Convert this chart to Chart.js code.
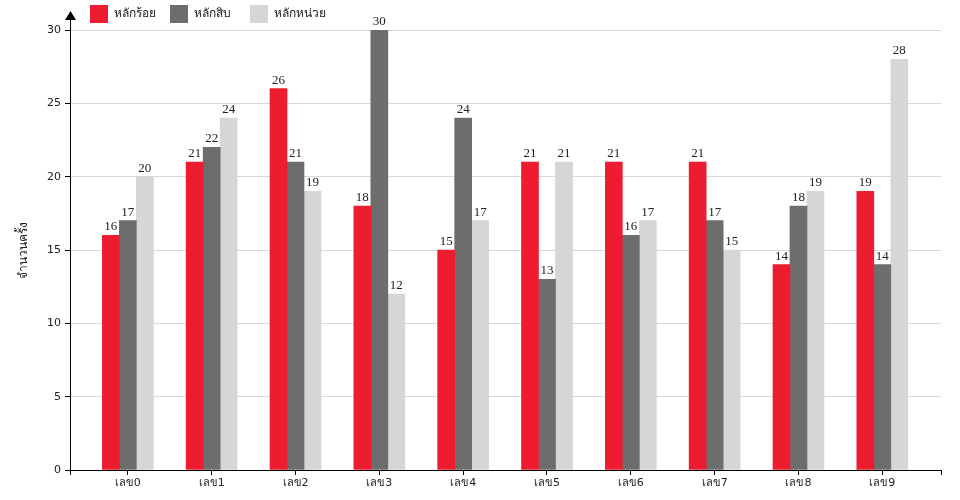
<!DOCTYPE html>
<html>
<head>
<meta charset="utf-8">
<script src="https://cdn.jsdelivr.net/npm/chart.js@4"></script>
<style>
  html, body { margin: 0; padding: 0; background: #fff; }
</style>
</head>
<body>
<canvas id="chart" width="960" height="500"></canvas>
<script>
// data
const categories = ['เลข0', 'เลข1', 'เลข2', 'เลข3', 'เลข4', 'เลข5', 'เลข6', 'เลข7', 'เลข8', 'เลข9'];
const seriesNames = ['หลักร้อย', 'หลักสิบ', 'หลักหน่วย'];
const hundreds = [16, 21, 26, 18, 15, 21, 21, 21, 14, 19];
const tens = [17, 22, 21, 30, 24, 13, 16, 17, 18, 14];
const units = [20, 24, 19, 12, 17, 21, 17, 15, 19, 28];
const yTicks = [0, 5, 10, 15, 20, 25, 30];
const yTitle = 'จำนวนครั้ง';

const colors = ['#ed1c2e', '#6d6d6d', '#d6d6d6'];
const sansFont = "'DejaVu Sans', 'Noto Sans', sans-serif";
const serifFont = "'Liberation Serif', 'DejaVu Serif', serif";

function points(vals) {
  return vals.map((v, i) => ({ x: i, y: v }));
}

// value labels above bars, legend, y title and axis arrow
const extras = {
  id: 'extras',
  afterDatasetsDraw(chart) {
    const ctx = chart.ctx;
    ctx.save();
    ctx.font = '13px ' + serifFont;
    ctx.fillStyle = '#222';
    ctx.textAlign = 'center';
    ctx.textBaseline = 'bottom';
    chart.data.datasets.forEach((ds, di) => {
      chart.getDatasetMeta(di).data.forEach((bar, i) => {
        ctx.fillText(String(ds.data[i].y), bar.x, bar.y - 2);
      });
    });
    ctx.restore();
  },
  afterDraw(chart) {
    const ctx = chart.ctx;
    const area = chart.chartArea;
    ctx.save();
    // arrow on y axis
    ctx.strokeStyle = '#000';
    ctx.lineWidth = 1;
    ctx.beginPath();
    ctx.moveTo(area.left + 0.5, area.top);
    ctx.lineTo(area.left + 0.5, 19);
    ctx.stroke();
    ctx.fillStyle = '#000';
    ctx.beginPath();
    ctx.moveTo(area.left + 0.5, 11);
    ctx.lineTo(area.left - 5, 20);
    ctx.lineTo(area.left + 6, 20);
    ctx.closePath();
    ctx.fill();

    // legend
    ctx.font = '12px ' + sansFont;
    ctx.textBaseline = 'middle';
    ctx.textAlign = 'left';
    const xs = [90, 170, 250];
    seriesNames.forEach((name, i) => {
      ctx.fillStyle = colors[i];
      ctx.fillRect(xs[i], 5, 18, 18);
      ctx.fillStyle = '#222';
      ctx.fillText(name, xs[i] + 24, 14);
    });

    // y title
    ctx.translate(24, 250);
    ctx.rotate(-Math.PI / 2);
    ctx.textAlign = 'center';
    ctx.font = '12px ' + serifFont;
    ctx.fillText(yTitle, 0, 0);
    ctx.restore();
  }
};

new Chart(document.getElementById('chart'), {
  type: 'bar',
  data: {
    datasets: seriesNames.map((name, i) => ({
      label: name,
      data: points([hundreds, tens, units][i]),
      backgroundColor: colors[i],
      borderWidth: 0,
      barThickness: 17
    }))
  },
  options: {
    responsive: false,
    animation: false,
    devicePixelRatio: 1,
    layout: { padding: { left: 0, right: 19, top: 30, bottom: 0 } },
    plugins: { legend: { display: false }, tooltip: { enabled: false } },
    scales: {
      x: {
        type: 'linear',
        min: -0.69,
        max: 9.7,
        offset: false,
        afterFit(scale) { scale.height = 30; },
        border: { display: true, color: '#000', width: 1 },
        grid: { offset: false, drawOnChartArea: false, drawTicks: true, tickLength: 5, tickColor: '#000' },
        ticks: {
          stepSize: 1,
          autoSkip: false,
          maxRotation: 0,
          padding: 2,
          color: '#222',
          font: { family: sansFont, size: 11 },
          callback: (v) => Number.isInteger(v) && categories[v] !== undefined ? categories[v] : ''
        }
      },
      y: {
        min: 0,
        max: 30,
        afterFit(scale) { scale.width = 70; },
        afterBuildTicks(scale) { scale.ticks = yTicks.map(v => ({ value: v })); },
        border: { display: true, color: '#000', width: 1 },
        grid: { color: '#d9d9d9', tickColor: '#000', tickLength: 5 },
        ticks: {
          padding: 4,
          color: '#222',
          font: { family: sansFont, size: 11 }
        }
      }
    }
  },
  plugins: [extras]
});
</script>
</body>
</html>
